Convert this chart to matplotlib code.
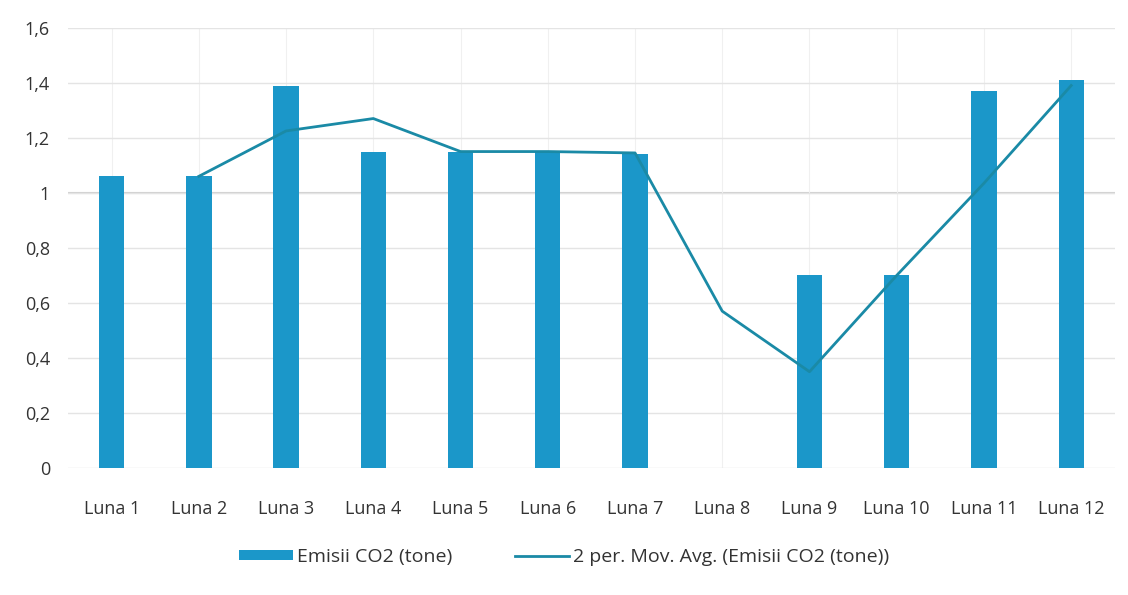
import matplotlib.pyplot as plt
from matplotlib.ticker import FixedLocator, FuncFormatter

plt.rcParams['font.family'] = ['Open Sans', 'DejaVu Sans']

luni = ["Luna 1", "Luna 2", "Luna 3", "Luna 4", "Luna 5", "Luna 6",
        "Luna 7", "Luna 8", "Luna 9", "Luna 10", "Luna 11", "Luna 12"]
emisii = [1.06, 1.06, 1.39, 1.15, 1.15, 1.15, 1.14, 0.0, 0.70, 0.70, 1.37, 1.41]
# moving average (starts at Luna 2)
mov_avg = [None, 1.06, 1.225, 1.27, 1.15, 1.15, 1.145, 0.57, 0.35, 0.70, 1.035, 1.39]

bar_color = "#1b97c9"
line_color = "#1a8aa6"

fig = plt.figure(figsize=(11.28, 5.95), dpi=100)
ax = fig.add_axes([0.0603, 0.2134, 0.928, 0.74])

x = list(range(len(luni)))
bars = ax.bar(x, emisii, width=0.29, color=bar_color, zorder=3, label="Emisii CO2 (tone)")
xs = [i for i, v in zip(x, mov_avg) if v is not None]
ys = [v for v in mov_avg if v is not None]
line, = ax.plot(xs, ys, color=line_color, lw=2, zorder=4,
                label="2 per. Mov. Avg. (Emisii CO2 (tone))")

ax.set_xlim(-0.5, len(luni) - 0.5)
ax.set_ylim(0, 1.6)
ax.yaxis.set_major_locator(FixedLocator([0, 0.2, 0.4, 0.6, 0.8, 1.0, 1.2, 1.4, 1.6]))
ax.yaxis.set_major_formatter(FuncFormatter(lambda v, p: ("%g" % round(v, 1)).replace(".", ",")))
ax.set_xticks(x)
ax.set_xticklabels(luni)
ax.grid(axis="y", color="#e4e4e4", lw=1, zorder=0)
ax.grid(axis="x", color="#f0f0f0", lw=0.8, zorder=0)
ax.axhline(1.0, color="#d0d0d0", lw=1.5, zorder=1)
for s in ax.spines.values():
    s.set_visible(False)
ax.tick_params(length=0, labelsize=13, colors="#333333")
ax.tick_params(axis="x", pad=23)
ax.tick_params(axis="y", pad=13)

fig.legend(handles=[bars, line], loc="center", bbox_to_anchor=(0.5, 0.064), ncol=2,
           frameon=False, fontsize=14, labelcolor="#333333", handlelength=2.8,
           handleheight=0.45, columnspacing=3.2, handletextpad=0.2)

fig.savefig("out.png", dpi=100)
